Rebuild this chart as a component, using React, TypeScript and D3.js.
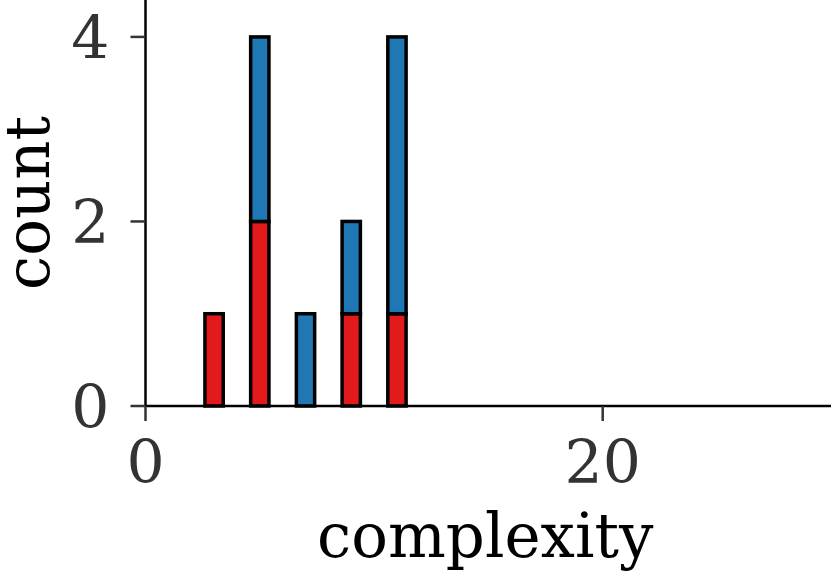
import React from "react";
import * as d3 from "d3";

const complexity = [3, 5, 7, 9, 11];
const redCounts = [1, 2, 0, 1, 1];
const blueCounts = [0, 2, 1, 1, 3];
const xTicks = [0, 20];
const yTicks = [0, 2, 4];

const W = 831;
const H = 573;

export default function App() {
  const x = d3.scaleLinear().domain([0, 30]).range([145.5, 831.3]);
  const y = d3.scaleLinear().domain([0, 4.4]).range([406, 0]);
  const bw = 0.8;
  const rows = complexity.map((c, i) => ({ c, red: redCounts[i], blue: blueCounts[i] }));
  const stack = d3.stack<any>().keys(["red", "blue"])(rows);
  const colors: Record<string, string> = { red: "#e31a1c", blue: "#1f77b4" };
  const font = "'DejaVu Serif', serif";

  return (
    <div style={{ position: "fixed", left: 0, top: 0 }}>
      <svg width={W} height={H} style={{ display: "block" }}>
        <rect width={W} height={H} fill="#fff" />
        {stack.map((s) =>
          s.map((d, i) =>
            d[1] - d[0] > 0 ? (
              <rect
                key={s.key + i}
                x={x(d.data.c - bw / 2)}
                width={x(d.data.c + bw / 2) - x(d.data.c - bw / 2)}
                y={y(d[1])}
                height={y(d[0]) - y(d[1])}
                fill={colors[s.key]}
                stroke="#000"
                strokeWidth={3.5}
              />
            ) : null
          )
        )}
        {/* spines */}
        <line x1={x(0)} x2={x(0)} y1={0} y2={y(0)} stroke="#000" strokeWidth={2.5} />
        <line x1={x(0)} x2={W} y1={y(0)} y2={y(0)} stroke="#000" strokeWidth={2.5} />
        {yTicks.map((t) => (
          <g key={"y" + t}>
            <line x1={x(0) - 15} x2={x(0)} y1={y(t)} y2={y(t)} stroke="#333" strokeWidth={2.5} />
            <text
              x={x(0) - 36}
              y={y(t)}
              dy="0.36em"
              textAnchor="end"
              fontFamily={font}
              fontSize={60}
              fill="#333"
            >
              {t}
            </text>
          </g>
        ))}
        {xTicks.map((t) => (
          <g key={"x" + t}>
            <line x1={x(t)} x2={x(t)} y1={y(0)} y2={y(0) + 15} stroke="#333" strokeWidth={2.5} />
            <text
              x={x(t)}
              y={483}
              textAnchor="middle"
              fontFamily={font}
              fontSize={60}
              fill="#333"
            >
              {t}
            </text>
          </g>
        ))}
        <text
          x={(x(0) + W) / 2 - 3}
          y={557}
          textAnchor="middle"
          fontFamily={font}
          fontSize={61}
          fill="#000"
        >
          complexity
        </text>
        <text
          transform={`translate(49, ${y(0) / 2}) rotate(-90)`}
          textAnchor="middle"
          fontFamily={font}
          fontSize={61}
          fill="#000"
        >
          count
        </text>
      </svg>
    </div>
  );
}
